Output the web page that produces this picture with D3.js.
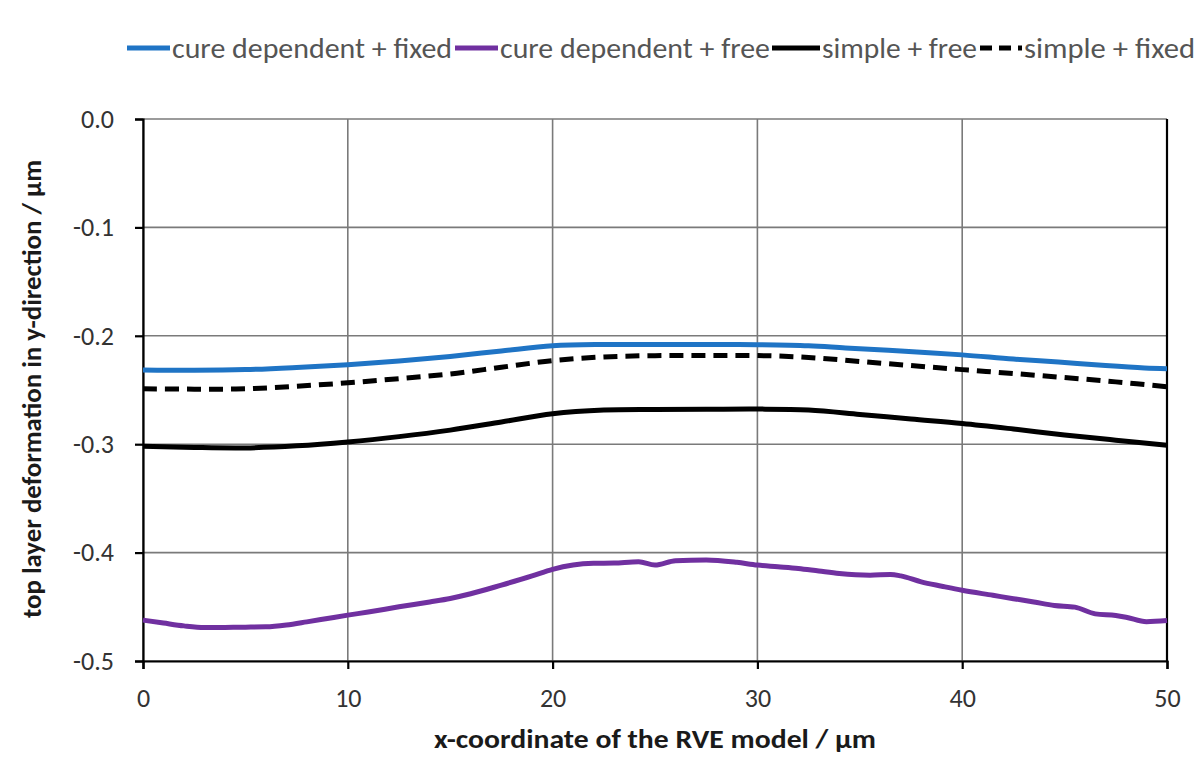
<!DOCTYPE html>
<html><head><meta charset="utf-8">
<script src="https://cdn.jsdelivr.net/npm/d3@7"></script>
<style>
html,body{margin:0;padding:0;background:#fff;}
svg{display:block;}
text{font-family:Carlito,Calibri,Lato,"Open Sans",sans-serif;}
</style></head>
<body><svg id="c" width="1201" height="767"></svg>
<script>
// ---- data ----
const seriesNames = ["cure dependent + fixed","cure dependent + free","simple + free","simple + fixed"];
const xTicks = [0,10,20,30,40,50];
const yTicks = [0,-0.1,-0.2,-0.3,-0.4,-0.5];
const yTickLabels = ["0.0","-0.1","-0.2","-0.3","-0.4","-0.5"];

const cureFixedX = [0,2.5,5,7.5,10,12.5,15,17.5,20,22.5,25,27.5,30,32.5,34.3,37,40,42.5,44.7,47,48.9,50];
const cureFixedY = [-0.2315,-0.2318,-0.2312,-0.2292,-0.2266,-0.2232,-0.2190,-0.2140,-0.2092,-0.2080,-0.2080,-0.2080,-0.2082,-0.2092,-0.2112,-0.2140,-0.2176,-0.2215,-0.2242,-0.2275,-0.2297,-0.2303];

const cureFreeX = [0,1,2,3,4,5,6,7,8,9,10,11,12.5,14,15,16,17.5,19,20,21,22,23,24.2,25,26,27.5,29,30,31,32,33,34,35.5,36.5,37,38,39,40,41.5,42.5,43.5,44.5,45.5,46.5,47.5,48,49,50];
const cureFreeY = [-0.4623,-0.4650,-0.4676,-0.4691,-0.4690,-0.4688,-0.4685,-0.4668,-0.4639,-0.4608,-0.4577,-0.4548,-0.4500,-0.4455,-0.4423,-0.4380,-0.4300,-0.4215,-0.4154,-0.4115,-0.4099,-0.4096,-0.4084,-0.4115,-0.4075,-0.4068,-0.4090,-0.4115,-0.4130,-0.4146,-0.4170,-0.4193,-0.4208,-0.4202,-0.4215,-0.4270,-0.4310,-0.4348,-0.4394,-0.4425,-0.4455,-0.4488,-0.4503,-0.4565,-0.4580,-0.4596,-0.4637,-0.4627];

const simpleFreeX = [0,2.5,5,7.5,10,12.5,15,17.5,20,22.5,25,27.5,30,32.5,35,37.5,40,42.5,45,47.5,50];
const simpleFreeY = [-0.3018,-0.3030,-0.3034,-0.3015,-0.2979,-0.2930,-0.2870,-0.2795,-0.2719,-0.2685,-0.2680,-0.2678,-0.2676,-0.2685,-0.2725,-0.2768,-0.2809,-0.2860,-0.2915,-0.2963,-0.3009];

const simpleFixedX = [0,2.5,5,7.5,10,12.5,15,17.5,20,22.5,25,27.5,30,32.5,35,37.5,40,42.5,45,47.5,50];
const simpleFixedY = [-0.2489,-0.2492,-0.2489,-0.2465,-0.2434,-0.2395,-0.2352,-0.2290,-0.2229,-0.2195,-0.2183,-0.2182,-0.2182,-0.2200,-0.2237,-0.2275,-0.2312,-0.2348,-0.2385,-0.2425,-0.2470];

const colors = ["#1f74c5","#7030a0","#000000","#000000"];
const dashes = [null,null,null,"14,8"];

// ---- layout ----
const svg = d3.select("#c");
const L=143, R=1167, T=119, B=661;
const x = d3.scaleLinear().domain([0,50]).range([L,R]);
const y = d3.scaleLinear().domain([-0.5,0]).range([B,T]);

// grid
const g = svg.append("g");
g.selectAll("line.gx").data(xTicks).join("line")
  .attr("x1",d=>x(d)).attr("x2",d=>x(d)).attr("y1",T).attr("y2",B)
  .attr("stroke","#7a7a7a").attr("stroke-width",1.6);
g.selectAll("line.gy").data(yTicks).join("line")
  .attr("x1",L).attr("x2",R).attr("y1",d=>y(d)).attr("y2",d=>y(d))
  .attr("stroke","#7a7a7a").attr("stroke-width",1.6);

// axes
const xAxis = d3.axisBottom(x).tickValues(xTicks).tickSize(8).tickPadding(20).tickFormat(d3.format("d"));
const yAxis = d3.axisLeft(y).tickValues(yTicks).tickSize(8).tickPadding(21).tickFormat((d,i)=>yTickLabels[i]);
const gx = svg.append("g").attr("transform",`translate(0,${B})`).call(xAxis);
const gy = svg.append("g").attr("transform",`translate(${L},0)`).call(yAxis);
[gx,gy].forEach(a=>{
  a.attr("font-size",null).attr("font-family",null);
  a.select(".domain").attr("stroke","#000").attr("stroke-width",2.2);
  a.selectAll(".tick line").attr("stroke","#000").attr("stroke-width",2.2);
  a.selectAll(".tick text").attr("fill","#333").style("font-size","26px");
});
// right border
svg.append("line").attr("x1",R).attr("x2",R).attr("y1",T).attr("y2",B).attr("stroke","#000").attr("stroke-width",2.2);

// lines
const allX=[cureFixedX,cureFreeX,simpleFreeX,simpleFixedX];
const allY=[cureFixedY,cureFreeY,simpleFreeY,simpleFixedY];
const smoothLine = d3.line().x(d=>x(d[0])).y(d=>y(d[1])).curve(d3.curveCatmullRom.alpha(0.5));
const roughLine = d3.line().x(d=>x(d[0])).y(d=>y(d[1])).curve(d3.curveMonotoneX);
const drawOrder=[0,3,2,1];
drawOrder.forEach(i=>{
  const pts = allX[i].map((v,k)=>[v,allY[i][k]]);
  const p = svg.append("path").datum(pts).attr("d",i===1?roughLine:smoothLine)
    .attr("fill","none").attr("stroke",colors[i]).attr("stroke-width",5)
    .attr("stroke-linejoin","round");
  if(dashes[i]) p.attr("stroke-dasharray",dashes[i]);
});

// legend
const legSample=[[127,170],[455,498],[772,820],[980,1022]];
const legText=[[172,452],[500,770],[822,977],[1024,1195]];
const legY=48;
seriesNames.forEach((n,i)=>{
  const l=svg.append("line").attr("x1",legSample[i][0]).attr("x2",legSample[i][1]).attr("y1",legY).attr("y2",legY)
    .attr("stroke",colors[i]).attr("stroke-width",5);
  if(dashes[i]) l.attr("stroke-dasharray","12,7");
  svg.append("text").attr("x",legText[i][0]).attr("y",legY+10).text(n)
    .attr("fill","#555").style("font-size","28px")
    .attr("textLength",legText[i][1]-legText[i][0]).attr("lengthAdjust","spacingAndGlyphs");
});

// axis titles
svg.append("text").attr("x",(434+876)/2).attr("y",748).attr("text-anchor","middle")
  .style("font-size","26px").style("font-weight","bold").attr("fill","#1a1a1a")
  .attr("textLength",442).attr("lengthAdjust","spacingAndGlyphs")
  .text("x-coordinate of the RVE model / µm");
svg.append("text").attr("transform","translate(41,389) rotate(-90)").attr("text-anchor","middle")
  .style("font-size","26px").style("font-weight","bold").attr("fill","#1a1a1a")
  .attr("textLength",458).attr("lengthAdjust","spacingAndGlyphs")
  .text("top layer deformation in y-direction / µm");
</script></body></html>
